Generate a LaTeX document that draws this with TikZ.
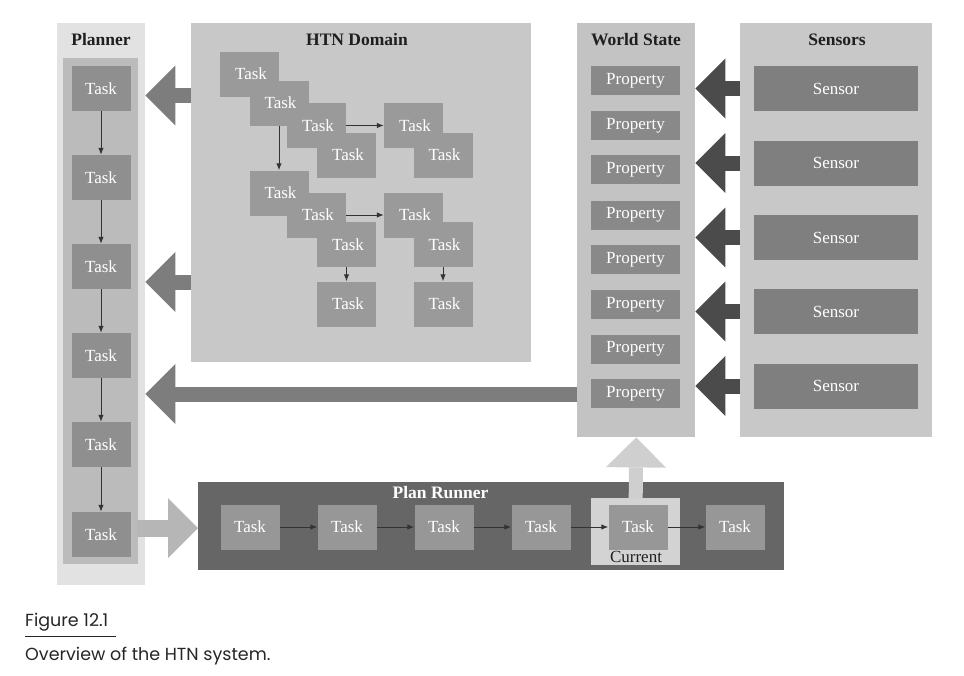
\documentclass[tikz,border=0pt]{standalone}
\usepackage{fontspec}
\setmainfont{Liberation Serif}
\newfontfamily\capfont{Poppins}
\usepackage{tikz}
\usetikzlibrary{positioning, arrows.meta}

\definecolor{plannerBg}{HTML}{E2E2E2}
\definecolor{plannerBand}{HTML}{BBBBBB}
\definecolor{panelGray}{HTML}{C8C8C8}
\definecolor{worldGray}{HTML}{C3C3C3}
\definecolor{taskGray}{HTML}{8F8F8F}
\definecolor{htnTask}{HTML}{9A9A9A}
\definecolor{propGray}{HTML}{898989}
\definecolor{sensorGray}{HTML}{7F7F7F}
\definecolor{runnerGray}{HTML}{666666}
\definecolor{runTask}{HTML}{979797}
\definecolor{currentGray}{HTML}{D3D3D3}
\definecolor{darkArrow}{HTML}{4B4B4B}
\definecolor{midArrow}{HTML}{7D7D7D}
\definecolor{lightArrow}{HTML}{B6B6B6}
\definecolor{paleArrow}{HTML}{CFCFCF}

\begin{document}
\begin{tikzpicture}[
    x=1pt, y=-1pt,
    >={Latex[length=7pt,width=5.5pt]},
    panel/.style={fill=#1, inner sep=0pt, anchor=north west},
    paneltitle/.style={font=\fontsize{17.5}{20}\selectfont\bfseries, text=black!88},
    boxtext/.style={text=white, font=\fontsize{17}{20}\selectfont},
    taskbox/.style={fill=#1, minimum width=59pt, minimum height=45pt, inner sep=0pt, boxtext},
    propbox/.style={fill=propGray, minimum width=89pt, minimum height=29pt, inner sep=0pt, boxtext},
    sensorbox/.style={fill=sensorGray, minimum width=164pt, minimum height=45pt, inner sep=0pt, boxtext},
    link/.style={->, draw=black!80, line width=1pt},
    bigarrow/.style={draw=#1, line width=15pt,
        -{Triangle[length=30pt,width=60pt,line width=0pt]}},
    capText/.style={anchor=west, inner sep=0pt, font=\capfont\fontsize{17.5}{20}\selectfont, text=black!85}
]
\useasboundingbox (0,0) rectangle (964,675);

% ==========================================
% 1. Planner column
% ==========================================
\node[panel=plannerBg, minimum width=88pt, minimum height=562pt] (planner) at (57,23) {};
\node[panel=plannerBand, minimum width=75pt, minimum height=506pt] (plannerBand) at (63,58) {};
\node[paneltitle] (plannerTitle) at (101,40) {Planner};

\foreach \i/\y in {1/88.5, 2/177.5, 3/266.5, 4/355.5, 5/444.5, 6/534.5} {
    \node[taskbox=taskGray] (pt\i) at (101,\y) {Task};
}
\foreach \i/\j in {1/2, 2/3, 3/4, 4/5, 5/6} {
    \draw[link] (pt\i.south) -- (pt\j.north);
}

% ==========================================
% 2. HTN Domain
% ==========================================
\node[panel=panelGray, minimum width=340pt, minimum height=339pt] (htn) at (191,23) {};
\node[paneltitle] (htnTitle) at (357,40) {HTN Domain};

% boxes in drawing order (later ones lie on top), labels over all of them
\foreach \i/\x/\y in {1/249.5/74, 2/279/103, 3/316.5/125.5, 4/346.5/155,
                      5/413.5/125.5, 6/443/155,
                      7/279/193, 8/316.5/215, 9/346.5/244.5,
                      10/413.5/215, 11/443/244.5,
                      12/346.5/304, 13/443/304} {
    \node[taskbox=htnTask] (h\i) at (\x,\y) {};
}
\foreach \i in {1,...,13} {
    \node[boxtext] (hl\i) at ([xshift=1.5pt]h\i.center) {Task};
}
\draw[link] (h2.south) -- (h7.north);
\draw[link] (h3.east) -- (h5.west);
\draw[link] (h8.east) -- (h10.west);
\draw[link] (h9.south) -- (h12.north);
\draw[link] (h11.south) -- (h13.north);

% ==========================================
% 3. World State and Sensors
% ==========================================
\node[panel=worldGray, minimum width=118pt, minimum height=414pt] (world) at (577,23) {};
\node[paneltitle] (worldTitle) at (636,40) {World State};
\foreach \i/\y in {1/80.5, 2/125.5, 3/169.5, 4/215, 5/259.5, 6/304.5, 7/349, 8/393.5} {
    \node[propbox] (prop\i) at (635.5,\y) {Property};
}

\node[panel=panelGray, minimum width=192pt, minimum height=414pt] (sensors) at (740,23) {};
\node[paneltitle] (sensorsTitle) at (837,40) {Sensors};
\foreach \i/\y in {1/88.5, 2/163, 3/237.5, 4/311.5, 5/386} {
    \node[sensorbox] (sens\i) at (836,\y) {Sensor};
    \draw[bigarrow=darkArrow] (sensors.west |- sens\i) -- (world.east |- sens\i);
}

% ==========================================
% 4. Plan Runner
% ==========================================
\node[panel=runnerGray, minimum width=586pt, minimum height=88pt] (runner) at (198,482) {};
\node[font=\fontsize{17.5}{20}\selectfont\bfseries, text=white] (runnerTitle) at (440.5,493) {Plan Runner};
\node[panel=currentGray, minimum width=89pt, minimum height=67pt] (current) at (591,498) {};
\node[font=\fontsize{17}{20}\selectfont, text=black!88] (currentLabel) at (636,557) {Current};

\node[taskbox=runTask] (rt1) at (250,527) {Task};
\foreach \i [remember=\i as \j (initially 1)] in {2,...,6} {
    \node[taskbox=runTask, right=37.6pt of rt\j] (rt\i) {Task};
}
\foreach \i/\j in {1/2, 2/3, 3/4, 4/5, 5/6} {
    \draw[link] (rt\i.east) -- (rt\j.west);
}

% ==========================================
% 5. Block arrows between the parts
% ==========================================
\coordinate (htnOut1) at (191,95.5);
\coordinate (htnOut2) at (191,282);
\coordinate (worldOut) at (577,394);
\coordinate (plannerOut) at (137,528);

\draw[bigarrow=midArrow] (htnOut1) -- (planner.east |- htnOut1);
\draw[bigarrow=midArrow] (htnOut2) -- (planner.east |- htnOut2);
\draw[bigarrow=midArrow] (worldOut) -- (planner.east |- worldOut);
\draw[bigarrow=lightArrow, line width=17pt] (plannerOut) -- (runner.west |- plannerOut);
\draw[bigarrow=paleArrow, line width=14pt] (current.north) -- (world.south);

% ==========================================
% 6. Caption
% ==========================================
\node[capText] (figNum) at (25,622) {Figure 12.1};
\draw[line width=1pt, black!85] (25,636) -- (116,636);
\node[capText] (figText) at (25,656) {Overview of the HTN system.};

\end{tikzpicture}
\end{document}
